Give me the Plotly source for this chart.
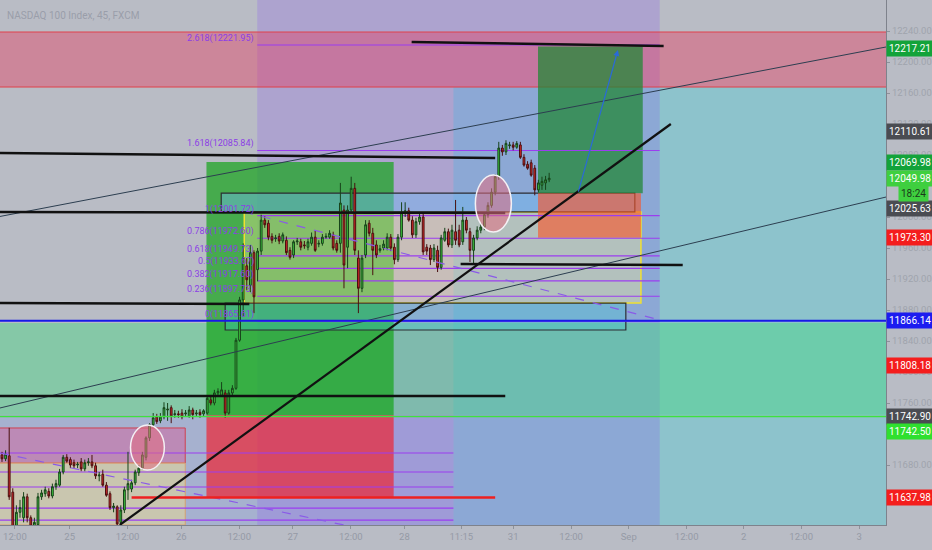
import plotly.graph_objects as go

# ---------------- data (45-min bars, NASDAQ 100, FXCM) ----------------
opens = [11693,11688,11692,11645,11599,11619,11612,11639,11612,11601,
         11603,11639,11643,11646,11640,11652,11654,11671,11690,11687,
         11683,11680,11684,11675,11683,11684,11679,11666,11668,11654,
         11643,11625,11626,11606,11622,11648,11649,11657,11670,11676,
         11690,11715,11732,11742,11737,11742,11751,11754,11745,11746,
         11747,11746,11743,11751,11746,11748,11746,11747,11764,11760,
         11773,11770,11773,11747,11773,11779,11841,11893,11937,11912,
         11954,11932,11956,11996,11992,11975,11972,11975,11969,11970,
         11957,11951,11968,11968,11964,11961,11966,11974,11965,11966,
         11974,11974,11977,11966,11966,12009,11961,12009,12037,11947,
         11908,11951,11992,11979,11964,11957,11960,11960,11974,11961,
         11945,11974,12006,12008,11996,11977,11994,12000,11961,11960,
         11945,11957,11935,11970,11981,11964,11981,11983,11968,11996,
         11981,11957,11973,11983,11987,12003,12015,12032,12052,12089,
         12084,12092,12093,12090,12093,12077,12068,12070,12063,12035,
         12041,12044,12048]
highs = [11697,11699,11728,11650,11628,11635,11645,11643,11615,11612,
         11644,11648,11652,11650,11656,11661,11675,11693,11694,11690,
         11687,11684,11689,11687,11689,11693,11683,11671,11674,11658,
         11646,11631,11628,11628,11652,11697,11661,11674,11680,11697,
         11717,11734,11747,11746,11747,11761,11760,11757,11751,11750,
         11752,11751,11756,11754,11751,11752,11752,11769,11768,11777,
         11779,11787,11777,11777,11783,11844,11897,11966,11947,11964,
         11957,11960,12003,12001,11996,11979,11977,11979,11980,11975,
         11961,11970,11973,11972,11969,11972,11980,11983,11970,11978,
         11979,11983,11981,11970,12044,12015,12015,12052,12044,11957,
         11951,11996,11996,11986,11970,11964,11970,11979,11978,11966,
         11978,12019,12019,12012,12001,11999,12006,12004,11965,11964,
         11965,11963,11977,11986,11985,11990,12022,11990,12013,12000,
         11986,11977,11988,11992,12006,12019,12037,12055,12097,12093,
         12099,12097,12097,12098,12097,12081,12072,12074,12067,12048,
         12052,12053,12057]
lows = [11684,11685,11635,11590,11590,11612,11606,11606,11596,11594,
        11599,11635,11639,11637,11637,11648,11652,11668,11683,11676,
        11676,11676,11672,11672,11679,11676,11662,11659,11652,11639,
        11622,11619,11599,11603,11618,11635,11645,11654,11666,11674,
        11686,11711,11729,11733,11734,11739,11737,11734,11741,11741,
        11739,11742,11741,11739,11742,11741,11743,11745,11757,11757,
        11770,11769,11741,11745,11770,11777,11839,11871,11906,11903,
        11876,11917,11951,11986,11970,11966,11968,11965,11966,11951,
        11945,11947,11964,11957,11959,11957,11963,11955,11961,11963,
        11972,11972,11957,11954,11954,11908,11934,12006,11951,11876,
        11903,11947,11975,11925,11947,11954,11957,11957,11956,11939,
        11942,11970,12000,11994,11973,11973,11990,11951,11951,11938,
        11942,11929,11932,11968,11961,11960,11964,11961,11964,11979,
        11942,11939,11970,11979,11983,11999,12012,12028,12048,12079,
        12080,12088,12086,12088,12075,12065,12061,12052,12028,12032,
        12035,12035,12045]
closes = [11688,11694,11639,11599,11619,11625,11639,11612,11601,11606,
          11639,11644,11648,11640,11652,11656,11671,11690,11685,11680,
          11679,11681,11675,11683,11684,11679,11666,11667,11654,11641,
          11625,11627,11604,11622,11648,11656,11657,11671,11676,11693,
          11715,11732,11741,11736,11742,11754,11752,11743,11746,11745,
          11742,11747,11751,11745,11747,11745,11750,11766,11760,11773,
          11775,11777,11747,11773,11779,11841,11893,11947,11919,11954,
          11897,11956,11996,11990,11974,11970,11973,11969,11977,11954,
          11948,11968,11969,11961,11963,11968,11974,11957,11966,11974,
          11975,11979,11960,11957,12018,11938,12009,12037,11957,11908,
          11947,11990,11979,11957,11951,11959,11965,11974,11960,11945,
          11974,12006,12008,11996,11977,11994,12000,11955,11956,11945,
          11960,11935,11973,11981,11964,11983,11970,11964,11996,11983,
          11957,11973,11983,11987,12003,12015,12032,12052,12089,12084,
          12095,12093,12090,12095,12077,12067,12063,12054,12035,12044,
          12046,12048,12050]
bar_index = list(range(len(closes)))

# time axis labels (bar-index positions)
time_tick_pos = [3.6, 18.8, 34.9, 49.8, 65.9, 80.8, 96.9, 111.8, 127.6,
                 142.0, 158.1, 174.1, 190.2, 206.0, 222.0, 238.1]
time_tick_text = ["12:00", "25", "12:00", "26", "12:00", "27", "12:00", "28",
                  "11:15", "31", "12:00", "Sep", "12:00", "2", "12:00", "3"]

# price axis ticks (those not hidden behind the price labels)
price_ticks = [11680, 11760, 11800, 11840, 11880, 11920,
               11960, 12000, 12080, 12120, 12160, 12200, 12240]

# fibonacci levels (price) and their labels
fib_prices = [11865.61, 11897.73, 11917.60, 11933.67, 11949.73, 11972.60,
              12001.72, 12085.84, 12221.95]
fib_labels = ["0(11865.61)", "0.236(11897.73)", "0.382(11917.60)",
              "0.5(11933.67)", "0.618(11949.73)", "0.786(11972.60)",
              "1(12001.72)", "1.618(12085.84)", "2.618(12221.95)"]

# lower-left fib grid levels
lower_fib_prices = [11695.5, 11671.0, 11651.6, 11624.5, 11609.0]

# price scale labels: (text, price, background colour, vertical shift px)
scale_labels = [
    ("12217.21", 12217.21, "#13a33a", 0),
    ("12110.61", 12110.61, "#4a4c52", 0),
    ("12069.98", 12069.98, "#13a33a", 0),
    ("12049.98", 12049.98, "#3fcf3f", 0),
    ("12025.63", 12025.63, "#4a4c52", -11),
    ("11973.30", 11973.30, "#f41d1d", 0),
    ("11866.14", 11866.14, "#1c1cf0", 0),
    ("11808.18", 11808.18, "#f41d1d", 0),
    ("11742.90", 11742.90, "#4a4c52", 0),
    ("11742.50", 11742.50, "#2fe02f", -15),
    ("11637.98", 11637.98, "#f41d1d", 0),
]

X_MIN, X_MAX = -0.554, 245.57
Y_MIN, Y_MAX = 11602.6, 12280.0

fig = go.Figure()
fig.add_trace(go.Candlestick(
    x=bar_index, open=opens, high=highs, low=lows, close=closes,
    increasing=dict(line=dict(color="#17421a", width=1), fillcolor="#3ec93e"),
    decreasing=dict(line=dict(color="#4a0f0f", width=1), fillcolor="#d72a2a"),
    whiskerwidth=0, showlegend=False, hoverinfo="skip"))

shapes = []

def rect(x0, x1, y0, y1, fill, line=None, lw=0, xref="x", layer="below"):
    shapes.append(dict(type="rect", xref=xref, yref="y", x0=x0, x1=x1, y0=y0, y1=y1,
                       fillcolor=fill, line=dict(color=line or "rgba(0,0,0,0)", width=lw),
                       layer=layer))

def seg(x0, y0, x1, y1, color, w, dash="solid", layer="above"):
    shapes.append(dict(type="line", xref="x", yref="y", x0=x0, y0=y0, x1=x1, y1=y1,
                       line=dict(color=color, width=w, dash=dash), layer=layer))

# large background zones
rect(125.4, 250, Y_MIN, 12167.7, "rgba(80,205,215,0.42)")         # cyan zone
rect(-1, 125.4, Y_MIN, 11745.0, "rgba(100,140,245,0.22)")          # blue zone lower-left
rect(70.9, 182.7, Y_MIN, Y_MAX, "rgba(140,95,235,0.27)")          # lavender column
rect(-1, 250, 12167.7, 12238.7, "rgba(230,60,95,0.42)", "#e0404a", 1)  # pink band
rect(-1, 250, 11745.0, 11863.2, "rgba(70,215,130,0.45)")          # mint band

# long position (left)
rect(56.8, 108.8, 11744.5, 12070.9, "rgba(25,165,30,0.72)")
rect(56.8, 108.8, 11637.98, 11744.5, "rgba(235,40,55,0.72)")
# small position bottom-left
rect(-1, 50.9, 11682.6, 11727.8, "rgba(215,90,150,0.45)", "#d04050", 1)
rect(-1, 50.9, 11602.6, 11682.6, "rgba(230,215,150,0.55)", "#d6a070", 1)

# boxes in the middle
rect(67.3, 177.5, 11889.0, 12006.5, "rgba(245,235,150,0.38)", "#f0e030", 1.5)
rect(60.9, 175.8, 12006.5, 12030.8, "rgba(110,185,240,0.45)", "#2b2d33", 1.2)
rect(62.0, 173.3, 11854.2, 11889.0, "rgba(70,200,210,0.35)", "#2b2d33", 1.2)

# short position (right)
rect(148.9, 178.0, 12030.8, 12220.0, "rgba(35,135,55,0.75)")
rect(148.9, 177.5, 11973.3, 12030.8, "rgba(250,85,40,0.62)")

# fib levels
for p in fib_prices:
    seg(70.9, p, 182.7, p, "#9b3df0", 1.2, layer="below")
for p in lower_fib_prices:
    seg(-1, p, 125.4, p, "#9b3df0", 1.2, layer="below")

# dashed trend lines
seg(67.3, 12006.5, 182.7, 11867.1, "#8a5ae8", 1.2, "dash")
seg(-0.55, 11695.5, 97.7, 11600.0, "#8a5ae8", 1.2, "dash")

# thin channel lines
seg(-0.55, 12000.7, 245.6, 12219.4, "#2c3e50", 1)
seg(-0.55, 11753.6, 245.6, 12025.8, "#2c3e50", 1)

# horizontal levels
seg(-1, 11866.14, 250, 11866.14, "#1818e8", 2.2)
seg(-1, 11742.50, 250, 11742.50, "#3ee23e", 1.5)
seg(36.0, 11637.98, 137.0, 11637.98, "#ee2020", 2.5)

# thick black trend / level lines
seg(113.8, 12225.8, 183.8, 12220.6, "#111111", 2.5)
seg(-1, 12082.6, 137.0, 12076.1, "#111111", 2.5)
seg(-1, 12006.5, 139.8, 12005.2, "#111111", 2.5)
seg(127.4, 11939.4, 189.1, 11938.1, "#111111", 2.5)
seg(-1, 11889.0, 68.7, 11887.7, "#111111", 2.5)
seg(-1, 11769.0, 139.8, 11769.0, "#111111", 2.5)
seg(32.7, 11602.6, 185.8, 12120.0, "#111111", 2.2)

# ellipses
shapes.append(dict(type="circle", xref="x", yref="y", x0=35.7, x1=45.1, y0=11673.6, y1=11731.6,
                   fillcolor="rgba(225,110,130,0.55)", line=dict(color="#f4f0f4", width=1.5)))
shapes.append(dict(type="circle", xref="x", yref="y", x0=131.5, x1=141.5, y0=11980.7, y1=12054.2,
                   fillcolor="rgba(225,110,130,0.55)", line=dict(color="#f4f0f4", width=1.5)))

annotations = []
# title
annotations.append(dict(xref="paper", yref="paper", x=0.006, y=0.985, xanchor="left", yanchor="top",
                        text="NASDAQ 100 Index, 45, FXCM", showarrow=False,
                        font=dict(family="Roboto", size=10, color="#9a9eaa")))
# fib labels
for txt, p in zip(fib_labels, fib_prices):
    annotations.append(dict(x=70.6, y=p, xref="x", yref="y", xanchor="right", yanchor="bottom",
                            text=txt, showarrow=False, yshift=-1,
                            font=dict(family="Roboto", size=9, color="#8c3ee6")))
# blue arrow
annotations.append(dict(x=171.1, y=12215.5, ax=160.0, ay=12030.8, axref="x", ayref="y",
                        xref="x", yref="y", text="", showarrow=True, arrowhead=2,
                        arrowsize=1, arrowwidth=1.2, arrowcolor="#2a6ad8"))
# price scale labels
for txt, p, col, dy in scale_labels:
    annotations.append(dict(xref="paper", yref="y", x=1.0, y=p, xanchor="left", yanchor="middle",
                            text=txt, showarrow=False, yshift=dy, bgcolor=col, borderpad=2,
                            font=dict(family="Roboto", size=10, color="white")))
annotations.append(dict(xref="paper", yref="y", x=1.0484, y=12049.98, xanchor="right", yanchor="middle",
                        text="18:24", showarrow=False, yshift=-15, bgcolor="#3fcf3f", borderpad=2,
                        font=dict(family="Roboto", size=10, color="#1a3a1a")))

fig.update_layout(
    width=932, height=550,
    margin=dict(l=0, r=43, t=0, b=25),
    paper_bgcolor="#b9bcc5", plot_bgcolor="#b9bcc5",
    shapes=shapes, annotations=annotations, showlegend=False,
    xaxis=dict(range=[X_MIN, X_MAX], rangeslider=dict(visible=False), showgrid=False,
               zeroline=False, tickmode="array", tickvals=time_tick_pos, ticktext=time_tick_text,
               ticks="outside", ticklen=3, tickcolor="#8e929b",
               tickfont=dict(family="Roboto", size=9.5, color="#959aa5"),
               showline=True, linecolor="#7e828c", linewidth=1),
    yaxis=dict(range=[Y_MIN, Y_MAX], side="right", showgrid=False, zeroline=False,
               tickmode="array", tickvals=price_ticks, ticktext=[f"{v:.2f}" for v in price_ticks],
               ticks="outside", ticklen=3, tickcolor="#8e929b",
               tickfont=dict(family="Roboto", size=9.5, color="#a0a4ad"),
               showline=True, linecolor="#7e828c", linewidth=1),
)

fig.write_html("out.html", config={"displayModeBar": False},
               post_script="document.body.style.margin='0px';document.body.style.background='#b9bcc5';")
